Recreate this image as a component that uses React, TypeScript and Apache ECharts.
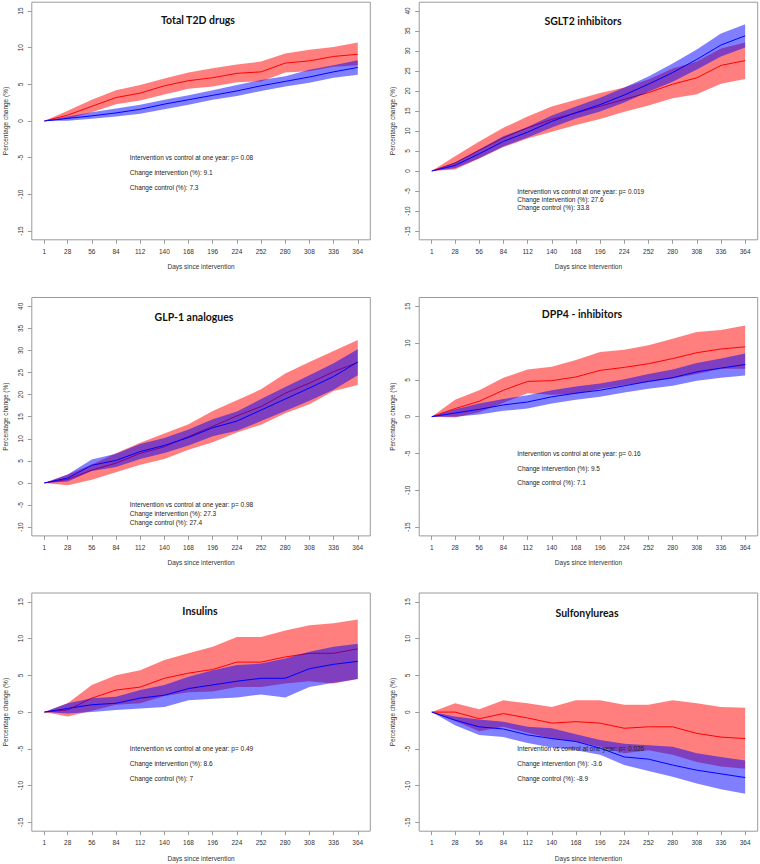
import React, { useEffect, useRef } from "react";
import * as echarts from "echarts";

// ---------- shared axes ----------
const DAYS = [1, 28, 56, 84, 112, 140, 168, 196, 224, 252, 280, 308, 336, 364];
const X_TICKS = [1, 28, 56, 84, 112, 140, 168, 196, 224, 252, 280, 308, 336, 364];
const Y_TICKS_15 = [-15, -10, -5, 0, 5, 10, 15];
const Y_TICKS_SGLT2 = [-15, -10, -5, 0, 5, 10, 15, 20, 25, 30, 35, 40];
const Y_TICKS_GLP1 = [-10, -5, 0, 5, 10, 15, 20, 25, 30, 35, 40];

const TITLES = ["Total T2D drugs", "SGLT2 inhibitors", "GLP-1 analogues", "DPP4 - inhibitors", "Insulins", "Sulfonylureas"];
const P_VALUES = ["0.08", "0.019", "0.98", "0.16", "0.49", "0.026"];
const CHANGE_INT = ["9.1", "27.6", "27.3", "9.5", "8.6", "-3.6"];
const CHANGE_CON = ["7.3", "33.8", "27.4", "7.1", "7", "-8.9"];

// ---------- Total T2D drugs ----------
const T2D_INT_MEAN = [0, 0.8, 2.0, 3.2, 3.8, 4.8, 5.5, 5.9, 6.5, 6.7, 7.9, 8.2, 8.8, 9.1];
const T2D_INT_LO = [0, 0.3, 1.2, 2.3, 2.8, 3.6, 4.4, 4.7, 5.3, 5.4, 6.6, 6.8, 7.4, 7.6];
const T2D_INT_HI = [0, 1.4, 2.9, 4.2, 4.9, 5.8, 6.6, 7.2, 7.7, 8.1, 9.2, 9.7, 10.1, 10.7];
const T2D_CON_MEAN = [0, 0.35, 0.7, 1.1, 1.6, 2.3, 2.9, 3.5, 4.1, 4.8, 5.4, 6.0, 6.7, 7.3];
const T2D_CON_LO = [0, 0.05, 0.3, 0.6, 1.0, 1.6, 2.2, 2.9, 3.4, 4.1, 4.7, 5.2, 5.9, 6.3];
const T2D_CON_HI = [0, 0.6, 1.2, 1.7, 2.2, 2.9, 3.5, 4.2, 4.9, 5.6, 6.1, 7.0, 7.6, 8.3];

// ---------- SGLT2 inhibitors ----------
const SGLT2_INT_MEAN = [0, 2.0, 5.2, 8.3, 10.8, 12.9, 14.5, 16.2, 17.9, 19.6, 21.7, 23.3, 26.4, 27.6];
const SGLT2_INT_LO = [0, 0.4, 3.1, 6.0, 8.1, 9.8, 11.5, 13.0, 14.8, 16.4, 18.2, 19.2, 21.8, 23.0];
const SGLT2_INT_HI = [0, 3.7, 7.4, 10.8, 13.6, 16.1, 17.8, 19.5, 20.9, 22.9, 25.6, 27.4, 30.6, 32.1];
const SGLT2_CON_MEAN = [0, 1.4, 4.3, 7.4, 9.7, 12.4, 14.6, 16.6, 19.0, 21.7, 24.6, 27.9, 31.5, 33.8];
const SGLT2_CON_LO = [0, 0.7, 3.2, 6.1, 8.4, 10.9, 13.1, 14.9, 17.1, 19.8, 22.3, 25.4, 28.6, 30.9];
const SGLT2_CON_HI = [0, 2.1, 5.4, 8.7, 11.0, 13.9, 16.1, 18.3, 20.9, 23.6, 26.9, 30.4, 34.4, 36.7];

// ---------- GLP-1 analogues ----------
const GLP1_INT_MEAN = [0, 0.8, 2.9, 4.5, 6.7, 8.2, 10.5, 12.8, 15.2, 17.3, 20.3, 22.6, 25.2, 27.3];
const GLP1_INT_LO = [0, -0.5, 0.7, 2.4, 4.1, 5.4, 7.5, 9.2, 11.4, 13.2, 15.8, 17.8, 20.8, 22.2];
const GLP1_INT_HI = [0, 1.9, 4.2, 6.7, 9.1, 11.2, 13.3, 16.3, 18.7, 21.2, 24.8, 27.4, 29.9, 32.4];
const GLP1_CON_MEAN = [0, 1.1, 4.0, 5.1, 7.1, 8.5, 10.3, 12.5, 14.0, 16.5, 19.0, 21.5, 24.1, 27.4];
const GLP1_CON_LO = [0, 0.3, 2.7, 3.6, 5.4, 6.8, 8.5, 10.6, 11.8, 14.0, 16.3, 18.6, 21.1, 24.4];
const GLP1_CON_HI = [0, 1.9, 5.3, 6.6, 8.8, 10.2, 12.1, 14.4, 16.2, 19.0, 21.7, 24.4, 27.1, 30.3];

// ---------- DPP4 inhibitors ----------
const DPP4_INT_MEAN = [0, 1.1, 2.1, 3.6, 4.8, 4.9, 5.4, 6.3, 6.7, 7.2, 7.9, 8.7, 9.2, 9.5];
const DPP4_INT_LO = [0, -0.1, 0.6, 1.9, 3.2, 3.0, 3.1, 3.8, 4.3, 4.7, 5.2, 5.8, 6.5, 6.5];
const DPP4_INT_HI = [0, 2.3, 3.6, 5.3, 6.4, 6.8, 7.7, 8.8, 9.1, 9.7, 10.6, 11.5, 11.8, 12.4];
const DPP4_CON_MEAN = [0, 0.5, 1.0, 1.6, 2.0, 2.7, 3.2, 3.6, 4.2, 4.8, 5.3, 6.1, 6.6, 7.1];
const DPP4_CON_LO = [0, 0.0, 0.3, 0.8, 1.1, 1.8, 2.3, 2.7, 3.3, 3.8, 4.2, 4.9, 5.3, 5.6];
const DPP4_CON_HI = [0, 1.0, 1.8, 2.4, 2.9, 3.6, 4.1, 4.5, 5.1, 5.8, 6.4, 7.3, 7.9, 8.6];

// ---------- Insulins ----------
const INS_INT_MEAN = [0, 0.3, 1.9, 3.0, 3.4, 4.6, 5.3, 5.8, 6.8, 6.8, 7.5, 8.0, 8.0, 8.6];
const INS_INT_LO = [0, -0.6, 0.2, 1.0, 1.2, 2.2, 2.7, 2.8, 3.4, 3.4, 3.9, 4.2, 3.9, 4.5];
const INS_INT_HI = [0, 1.2, 3.7, 5.0, 5.7, 7.1, 8.0, 8.9, 10.2, 10.2, 11.1, 11.8, 12.1, 12.6];
const INS_CON_MEAN = [0, 0.5, 1.0, 1.2, 1.9, 2.3, 3.2, 3.7, 4.2, 4.6, 4.6, 5.9, 6.5, 6.9];
const INS_CON_LO = [0, -0.2, 0.0, 0.3, 0.5, 0.7, 1.6, 1.8, 2.0, 2.4, 2.0, 3.4, 4.0, 4.5];
const INS_CON_HI = [0, 1.2, 1.9, 2.1, 3.0, 3.7, 4.8, 5.7, 6.4, 6.6, 7.3, 8.2, 8.9, 9.3];

// ---------- Sulfonylureas ----------
const SU_INT_MEAN = [0, 0.0, -0.9, -0.2, -0.8, -1.5, -1.3, -1.5, -2.2, -2.0, -2.0, -2.9, -3.4, -3.6];
const SU_INT_LO = [0, -1.2, -2.6, -2.0, -2.8, -3.6, -4.0, -4.7, -5.6, -5.2, -5.8, -6.8, -7.4, -7.7];
const SU_INT_HI = [0, 1.2, 0.4, 1.6, 1.2, 0.7, 1.6, 1.6, 1.0, 1.0, 1.6, 1.2, 0.7, 0.6];
const SU_CON_MEAN = [0, -1.1, -2.0, -2.3, -3.1, -3.6, -4.0, -4.9, -6.1, -6.4, -7.2, -7.9, -8.4, -8.9];
const SU_CON_LO = [0, -1.8, -3.1, -3.4, -4.2, -4.8, -5.2, -5.8, -7.2, -8.0, -8.8, -9.7, -10.5, -11.1];
const SU_CON_HI = [0, -0.6, -1.0, -1.3, -2.0, -2.2, -3.0, -3.8, -4.3, -4.5, -4.7, -5.6, -6.1, -6.6];

// ---------- layout ----------
const COL_LEFT = [31.8, 419.2];
const COL_WIDTH = 338.5;
const ROW_TOP = [2.2, 297.5, 593];
const ROW_HEIGHT = [237.6, 238.4, 238.2];
const TITLE_POS = [
  [198, 20.3],
  [583, 20.7],
  [194, 316.7],
  [582, 314],
  [200, 610.7],
  [587, 612.7],
];

const PANELS = [
  { yTicks: Y_TICKS_15, im: T2D_INT_MEAN, il: T2D_INT_LO, ih: T2D_INT_HI, cm: T2D_CON_MEAN, cl: T2D_CON_LO, ch: T2D_CON_HI },
  { yTicks: Y_TICKS_SGLT2, im: SGLT2_INT_MEAN, il: SGLT2_INT_LO, ih: SGLT2_INT_HI, cm: SGLT2_CON_MEAN, cl: SGLT2_CON_LO, ch: SGLT2_CON_HI },
  { yTicks: Y_TICKS_GLP1, im: GLP1_INT_MEAN, il: GLP1_INT_LO, ih: GLP1_INT_HI, cm: GLP1_CON_MEAN, cl: GLP1_CON_LO, ch: GLP1_CON_HI },
  { yTicks: Y_TICKS_15, im: DPP4_INT_MEAN, il: DPP4_INT_LO, ih: DPP4_INT_HI, cm: DPP4_CON_MEAN, cl: DPP4_CON_LO, ch: DPP4_CON_HI },
  { yTicks: Y_TICKS_15, im: INS_INT_MEAN, il: INS_INT_LO, ih: INS_INT_HI, cm: INS_CON_MEAN, cl: INS_CON_LO, ch: INS_CON_HI },
  { yTicks: Y_TICKS_15, im: SU_INT_MEAN, il: SU_INT_LO, ih: SU_INT_HI, cm: SU_CON_MEAN, cl: SU_CON_LO, ch: SU_CON_HI },
];

const RED_BAND = "rgba(255,0,0,0.5)";
const BLUE_BAND = "rgba(0,0,255,0.5)";
const AXIS_GRAY = "#9a9a9a";
const TEXT_COLOR = "#333";
const FONT = "'Liberation Sans', Arial, sans-serif";

function bandSeries(idx: number, lo: number[], hi: number[], color: string, z: number) {
  return {
    type: "custom",
    coordinateSystem: "cartesian2d",
    xAxisIndex: idx,
    yAxisIndex: idx,
    silent: true,
    z,
    data: DAYS.map((d, i) => [d, lo[i], hi[i]]),
    encode: { x: 0, y: [1, 2] },
    renderItem: (params: any, api: any) => {
      if (params.dataIndex !== 0) return null;
      const top = DAYS.map((d, i) => api.coord([d, hi[i]]));
      const bot = DAYS.map((d, i) => api.coord([d, lo[i]])).reverse();
      return {
        type: "polygon",
        shape: { points: top.concat(bot) },
        style: { fill: color },
      };
    },
  };
}

function lineSeries(idx: number, mean: number[], color: string, z: number) {
  return {
    type: "line",
    xAxisIndex: idx,
    yAxisIndex: idx,
    silent: true,
    z,
    showSymbol: false,
    symbol: "none",
    data: DAYS.map((d, i) => [d, mean[i]]),
    lineStyle: { color, width: 1 },
  };
}

function annotationSeries(idx: number, texts: string[]) {
  const ys = [-5, -7, -9];
  return {
    type: "custom",
    coordinateSystem: "cartesian2d",
    xAxisIndex: idx,
    yAxisIndex: idx,
    silent: true,
    z: 10,
    data: ys.map((y, i) => [100, y, i]),
    encode: { x: 0, y: 1 },
    renderItem: (params: any, api: any) => {
      const pt = api.coord([api.value(0), api.value(1)]);
      return {
        type: "text",
        x: pt[0],
        y: pt[1],
        style: {
          text: texts[params.dataIndex],
          fill: "#222",
          fontSize: 6.5,
          fontFamily: FONT,
          align: "left",
          verticalAlign: "middle",
        },
      };
    },
  };
}

export default function App() {
  const ref = useRef<HTMLDivElement>(null);

  useEffect(() => {
    if (!ref.current) return;
    const chart = echarts.init(ref.current, null, { renderer: "svg" });

    const grids: any[] = [];
    const xAxes: any[] = [];
    const yAxes: any[] = [];
    const series: any[] = [];
    const graphics: any[] = [];

    PANELS.forEach((p, idx) => {
      const col = idx % 2;
      const row = Math.floor(idx / 2);
      grids.push({
        left: COL_LEFT[col],
        top: ROW_TOP[row],
        width: COL_WIDTH,
        height: ROW_HEIGHT[row],
        show: true,
        borderColor: AXIS_GRAY,
        borderWidth: 1,
        backgroundColor: "transparent",
        containLabel: false,
        outerBoundsMode: "none",
      });
      const xr = X_TICKS[X_TICKS.length - 1] - X_TICKS[0];
      xAxes.push({
        type: "value",
        gridIndex: idx,
        min: X_TICKS[0] - 0.04 * xr,
        max: X_TICKS[X_TICKS.length - 1] + 0.04 * xr,
        name: "Days since intervention",
        nameLocation: "middle",
        nameGap: 23.5,
        nameMoveOverlap: false,
        nameTextStyle: { fontSize: 6.5, color: TEXT_COLOR, fontFamily: FONT },
        axisLine: { show: false, onZero: false },
        axisTick: { show: true, length: 4, customValues: X_TICKS, lineStyle: { color: AXIS_GRAY } },
        axisLabel: {
          show: true,
          customValues: X_TICKS,
          fontSize: 6.5,
          color: TEXT_COLOR,
          fontFamily: FONT,
          margin: 8,
          hideOverlap: false,
          showMinLabel: true,
          showMaxLabel: true,
        },
        splitLine: { show: false },
      });
      const yt = p.yTicks;
      const yr = yt[yt.length - 1] - yt[0];
      yAxes.push({
        type: "value",
        gridIndex: idx,
        min: yt[0] - 0.04 * yr,
        max: yt[yt.length - 1] + 0.04 * yr,
        name: "Percentage change (%)",
        nameLocation: "middle",
        nameGap: 23,
        nameMoveOverlap: false,
        nameTextStyle: { fontSize: 6.5, color: TEXT_COLOR, fontFamily: FONT },
        axisLine: { show: false, onZero: false },
        axisTick: { show: true, length: 4, customValues: yt, lineStyle: { color: AXIS_GRAY } },
        axisLabel: {
          show: true,
          customValues: yt,
          rotate: 90,
          fontSize: 6.5,
          color: TEXT_COLOR,
          fontFamily: FONT,
          margin: 8,
          hideOverlap: false,
          showMinLabel: true,
          showMaxLabel: true,
        },
        splitLine: { show: false },
      });

      series.push(bandSeries(idx, p.il, p.ih, RED_BAND, 1));
      series.push(lineSeries(idx, p.im, "#ff0000", 2));
      series.push(bandSeries(idx, p.cl, p.ch, BLUE_BAND, 3));
      series.push(lineSeries(idx, p.cm, "#0000ff", 4));
      series.push(
        annotationSeries(idx, [
          "Intervention vs control at one year: p= " + P_VALUES[idx],
          "Change intervention (%): " + CHANGE_INT[idx],
          "Change control (%): " + CHANGE_CON[idx],
        ])
      );

      graphics.push({
        type: "text",
        x: TITLE_POS[idx][0],
        y: TITLE_POS[idx][1],
        silent: true,
        style: {
          text: TITLES[idx],
          fill: "#111",
          fontSize: 10.5,
          fontWeight: "bold",
          fontFamily: "Lato, 'Open Sans', sans-serif",
          align: "center",
          verticalAlign: "middle",
        },
      });
    });

    chart.setOption({
      animation: false,
      backgroundColor: "#ffffff",
      grid: grids,
      xAxis: xAxes,
      yAxis: yAxes,
      series,
      graphic: graphics,
    });

    return () => {
      chart.dispose();
    };
  }, []);

  return (
    <div
      ref={ref}
      style={{ position: "absolute", left: 0, top: 0, width: 760, height: 864 }}
    />
  );
}
